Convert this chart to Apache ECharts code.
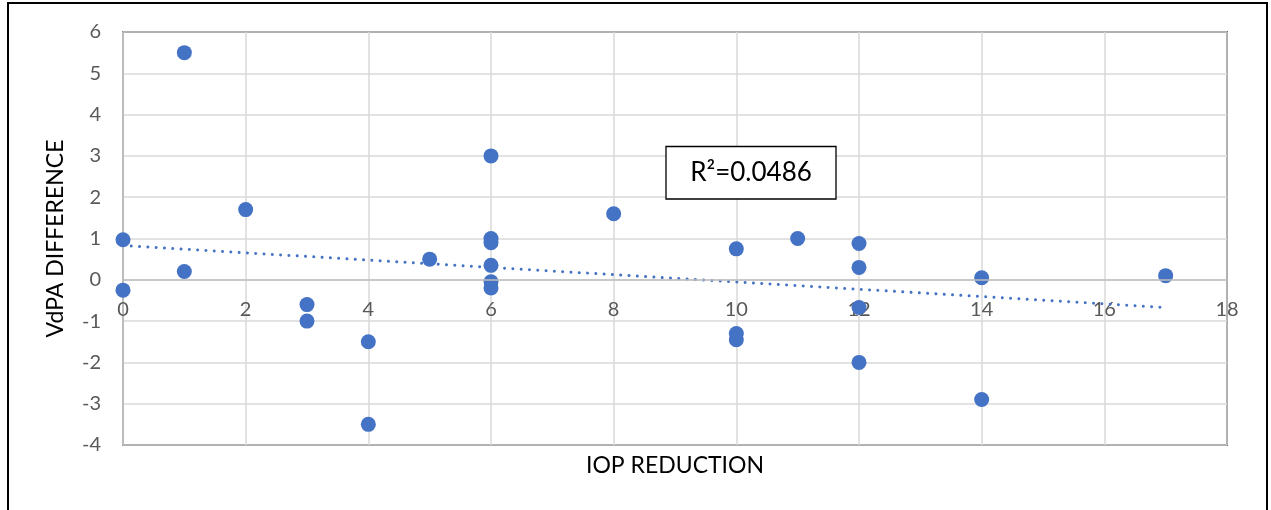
<!DOCTYPE html>
<html>
<head>
<meta charset="utf-8">
<script src="https://cdn.jsdelivr.net/npm/echarts@6/dist/echarts.min.js"></script>
<style>
html,body{margin:0;padding:0;background:#fff;}
#chart{width:1271px;height:510px;}
</style>
</head>
<body>
<div id="chart"></div>
<script>
// IOP reduction (x) vs VdPA difference (y)
const iopReduction = [0, 0, 1, 1, 2, 3, 3, 4, 4, 5, 6, 6, 6, 6, 6, 6, 8, 10, 10, 10, 11, 12, 12, 12, 12, 14, 14, 17];
const vdpaDifference = [0.97, -0.25, 5.5, 0.2, 1.7, -0.6, -1.0, -1.5, -3.5, 0.5, 3.0, 1.0, 0.9, 0.35, -0.05, -0.2, 1.6, 0.75, -1.3, -1.45, 1.0, 0.88, 0.3, -0.67, -2.0, 0.05, -2.9, 0.1];
// linear trendline endpoints
const trendX = [0, 17];
const trendY = [0.83, -0.67];
const rSquaredLabel = 'R²=0.0486';
const xTitle = 'IOP REDUCTION';
const yTitle = 'VdPA DIFFERENCE';

const points = iopReduction.map((x, i) => [x, vdpaDifference[i]]);
const trend = trendX.map((x, i) => [x, trendY[i]]);

const FONT = 'Lato';
const chart = echarts.init(document.getElementById('chart'), null, {renderer: 'canvas'});
chart.setOption({
  animation: false,
  backgroundColor: '#fff',
  grid: {left: 123, right: 44, top: 32, bottom: 65, containLabel: false, outerBoundsMode: 'none',
         show: true, borderColor: '#000', borderWidth: 1.5, backgroundColor: 'transparent'},
  xAxis: {
    type: 'value', min: 0, max: 18, interval: 2,
    name: xTitle, nameLocation: 'middle', nameGap: 9,
    nameTextStyle: {fontFamily: FONT, fontSize: 23, color: '#000'},
    axisLine: {show: false, onZero: false},
    axisTick: {show: false},
    // labels sit just below the y = 0 line, as in the reference
    axisLabel: {fontFamily: FONT, fontSize: 20, color: '#595959', margin: -145},
    splitLine: {show: true, lineStyle: {color: '#d9d9d9', width: 1.5}}
  },
  yAxis: {
    type: 'value', min: -4, max: 6, interval: 1,
    name: yTitle, nameLocation: 'middle', nameGap: 56, nameRotate: 90,
    nameTextStyle: {fontFamily: FONT, fontSize: 23, color: '#000'},
    axisLine: {show: true, onZero: false, lineStyle: {color: '#bfbfbf', width: 1.5}},
    axisTick: {show: false},
    axisLabel: {fontFamily: FONT, fontSize: 20, color: '#595959', margin: 22},
    splitLine: {show: true, lineStyle: {color: '#d9d9d9', width: 1.5}}
  },
  series: [
    {
      type: 'line', data: trend, symbol: 'none', z: 3,
      lineStyle: {color: '#4472C4', width: 3, type: [0.01, 8.3], cap: 'round'},
      markLine: {
        silent: true, symbol: 'none', label: {show: false}, animation: false,
        lineStyle: {color: '#bfbfbf', width: 1.5, type: 'solid'},
        data: [{yAxis: 0}]
      }
    },
    {
      type: 'scatter', data: points, symbol: 'circle', symbolSize: 15, z: 4,
      itemStyle: {color: '#4472C4', opacity: 1}
    }
  ],
  graphic: [
    {type: 'rect', shape: {x: 8, y: 3, width: 1259, height: 540}, style: {fill: 'none', stroke: '#000', lineWidth: 2}, z: 100},
    {type: 'rect', shape: {x: 666, y: 146.5, width: 170, height: 52.5}, style: {fill: '#fff', stroke: '#000', lineWidth: 1.3}, z: 100},
    {type: 'text', x: 751, y: 173, style: {text: rSquaredLabel, fontFamily: FONT, fontSize: 26, fill: '#000', align: 'center', verticalAlign: 'middle'}, z: 101}
  ]
});
</script>
</body>
</html>
